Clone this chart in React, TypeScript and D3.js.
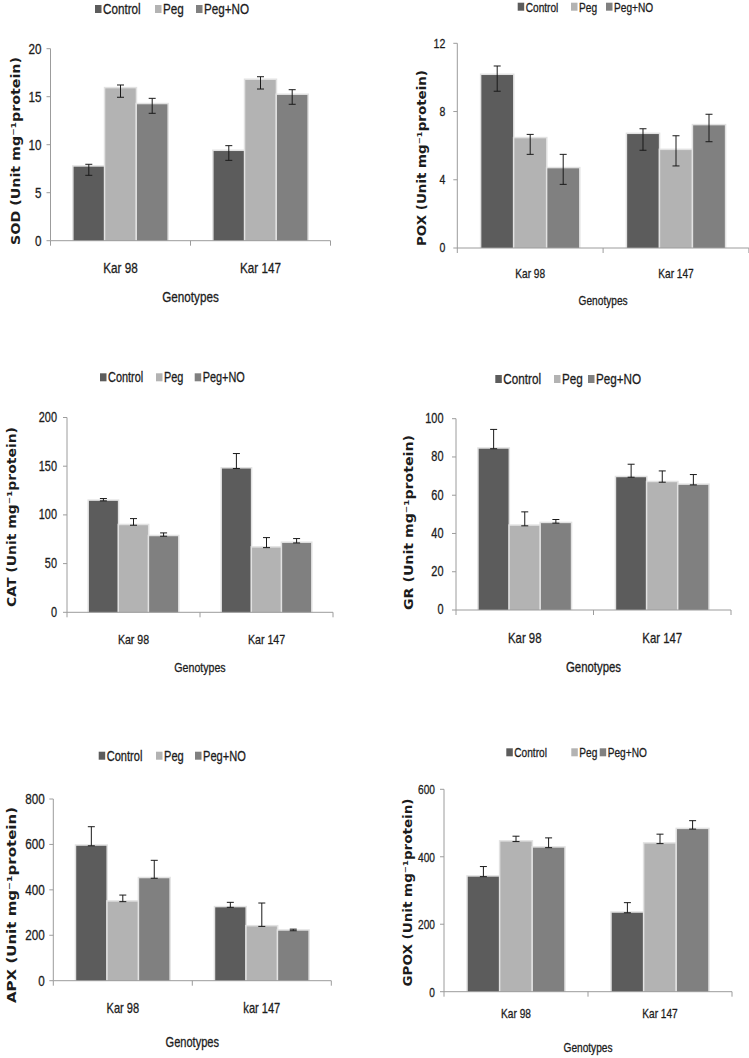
import React from 'react';
import * as d3 from 'd3';

const categories = ['Kar 98', 'Kar 147'];
const categoriesAPX = ['Kar 98', 'kar 147'];
const series = ['Control', 'Peg', 'Peg+NO'];
const seriesColors = ['#5c5c5c', '#b3b3b3', '#808080'];
const xTitle = 'Genotypes';

// values per category: [Control, Peg, Peg+NO]
const sodMeans = [[7.71, 15.87, 14.21], [9.34, 16.74, 15.18]];
const sodPlus = [[0.25, 0.35, 0.62], [0.56, 0.34, 0.55]];
const sodMinus = [[0.9, 0.93, 0.94], [0.97, 0.94, 0.97]];
const sodTicks = [0, 5, 10, 15, 20];

const poxMeans = [[10.14, 6.43, 4.67], [6.68, 5.74, 7.19]];
const poxPlus = [[0.53, 0.23, 0.82], [0.31, 0.84, 0.65]];
const poxMinus = [[0.95, 0.94, 0.94], [0.95, 0.93, 0.96]];
const poxTicks = [0, 4, 8, 12];

const catMeans = [[114.4, 89.4, 78.1], [147.6, 66.4, 71.2]];
const catPlus = [[2.4, 6.8, 3.4], [15.4, 10.3, 4.5]];
const catMinus = [[0, 0, 0], [0, 0, 0]];
const catTicks = [0, 50, 100, 150, 200];

const grMeans = [[84.3, 44.0, 45.4], [69.4, 66.8, 65.4]];
const grPlus = [[10.1, 7.3, 1.9], [6.8, 5.9, 5.4]];
const grMinus = [[0, 0, 0], [0, 0, 0]];
const grTicks = [0, 20, 40, 60, 80, 100];

const apxMeans = [[594, 348, 451], [323, 239, 220]];
const apxPlus = [[84, 29, 79], [22, 103, 7]];
const apxMinus = [[0, 0, 0], [0, 0, 0]];
const apxTicks = [0, 200, 400, 600, 800];

const gpoxMeans = [[341, 445, 427], [234, 439, 482]];
const gpoxPlus = [[30, 16, 29], [30, 28, 25]];
const gpoxMinus = [[0, 0, 0], [0, 0, 0]];
const gpoxTicks = [0, 200, 400, 600];

const SANS = "'Liberation Sans', Arial, sans-serif";
const WIDE = "'DejaVu Sans', Verdana, sans-serif";
const SX = 0.78;

function Txt({ x, y, size, anchor = 'start', children }:
  { x: number; y: number; size: number; anchor?: string; children: React.ReactNode }) {
  return (
    <text transform={`translate(${x},${y}) scale(${SX},1)`} textAnchor={anchor as any}
      dominantBaseline="central" fontFamily={SANS} fontSize={size} fill="#1c1c1c"
      stroke="#1c1c1c" strokeWidth={0.3}>{children}</text>
  );
}

type PanelProps = {
  label: string;
  cats: string[];
  means: number[][];
  plus: number[][];
  minus: number[][];
  ticks: number[];
  layout: {
    ax: number; band: number; y0: number; yTop: number;
    tickFont: number; tickGap: number;
    legendY: number; legendX: number[]; legendFont: number;
    yLabelX: number; yLabelY: number; yLabelLen: number;
    catY: number; genY: number; catFont: number;
  };
};

function Panel({ label, cats, means, plus, minus, ticks, layout: L }: PanelProps) {
  const max = ticks[ticks.length - 1];
  const y = d3.scaleLinear().domain([0, max]).range([L.y0, L.yTop]);
  const x0 = d3.scaleBand<string>().domain(cats).range([L.ax, L.ax + 2 * L.band]).padding(0);
  const groupW = L.band * 0.67;
  const axisColor = '#9c9c9c';
  return (
    <g>
      {series.map((s, i) => (
        <g key={s}>
          <rect x={L.legendX[i] - 8} y={L.legendY - 4} width={6.5} height={8} fill={seriesColors[i]} />
          <Txt x={L.legendX[i]} y={L.legendY} size={L.legendFont}>{s}</Txt>
        </g>
      ))}
      <line x1={L.ax} x2={L.ax} y1={L.yTop} y2={L.y0} stroke={axisColor} strokeWidth={1} />
      {ticks.map(t => (
        <g key={t}>
          <line x1={L.ax - 4} x2={L.ax} y1={y(t)} y2={y(t)} stroke={axisColor} />
          <Txt x={L.ax - L.tickGap} y={y(t)} size={L.tickFont} anchor="end">{t}</Txt>
        </g>
      ))}
      {cats.map((c, ci) => {
        const cx = (x0(c) as number) + L.band / 2;
        const x1 = d3.scaleBand<string>().domain(series)
          .range([cx - groupW / 2, cx + groupW / 2]).paddingInner(0.04);
        return (
          <g key={c}>
            {series.map((s, si) => {
              const v = means[ci][si];
              const bx = x1(s) as number;
              const bw = x1.bandwidth();
              return (
                <g key={s}>
                  <rect x={bx - 1.5} y={y(v) - 1.5} width={bw + 3} height={L.y0 - y(v) + 1.5} fill="#e2e2e2" />
                  <rect x={bx} y={y(v)} width={bw} height={L.y0 - y(v)} fill={seriesColors[si]} />
                </g>
              );
            })}
            {series.map((s, si) => {
              const v = means[ci][si];
              const ex = (x1(s) as number) + x1.bandwidth() / 2;
              const hi = y(v + plus[ci][si]);
              const lo = y(v - minus[ci][si]);
              return (
                <g key={'e' + s} stroke="#1a1a1a" strokeWidth={1}>
                  <line x1={ex} x2={ex} y1={hi} y2={lo} />
                  <line x1={ex - 3.5} x2={ex + 3.5} y1={hi} y2={hi} />
                  <line x1={ex - 3.5} x2={ex + 3.5} y1={lo} y2={lo} />
                </g>
              );
            })}
          </g>
        );
      })}
      <line x1={L.ax} x2={L.ax + 2 * L.band} y1={L.y0} y2={L.y0} stroke={axisColor} strokeWidth={1} />
      {[0, 1, 2].map(k => (
        <line key={k} x1={L.ax + k * L.band} x2={L.ax + k * L.band} y1={L.y0} y2={L.y0 + 5} stroke={axisColor} />
      ))}
      {cats.map(c => (
        <Txt key={c} x={(x0(c) as number) + L.band / 2} y={L.catY} size={L.catFont} anchor="middle">{c}</Txt>
      ))}
      <Txt x={L.ax + L.band} y={L.genY} size={L.catFont} anchor="middle">{xTitle}</Txt>
      <text transform={`translate(${L.yLabelX},${L.yLabelY}) rotate(-90)`} textAnchor="middle"
        dominantBaseline="central" fontFamily={WIDE} fontWeight="bold" fontSize={12.5} fill="#1c1c1c"
        textLength={L.yLabelLen} lengthAdjust="spacingAndGlyphs">
        {label + ' (Unit mg\u207B\u00B9protein)'}
      </text>
    </g>
  );
}

export default function App() {
  return (
    <svg width={749} height={1058} style={{ position: 'absolute', left: 0, top: 0, background: '#fff' }}>
      <rect width={749} height={1058} fill="#fff" />
      <Panel label="SOD" cats={categories} means={sodMeans} plus={sodPlus} minus={sodMinus} ticks={sodTicks}
        layout={{ ax: 50.5, band: 140, y0: 240.7, yTop: 48.7, tickFont: 15, tickGap: 9,
          legendY: 9, legendX: [103, 163, 204], legendFont: 15,
          yLabelX: 15, yLabelY: 151, yLabelLen: 188, catY: 268, genY: 297, catFont: 15 }} />
      <Panel label="POX" cats={categories} means={poxMeans} plus={poxPlus} minus={poxMinus} ticks={poxTicks}
        layout={{ ax: 457.3, band: 145.8, y0: 248, yTop: 43.3, tickFont: 13.5, tickGap: 12,
          legendY: 6.7, legendX: [525.7, 579, 614], legendFont: 13,
          yLabelX: 421.7, yLabelY: 158, yLabelLen: 176, catY: 272.7, genY: 300, catFont: 13 }} />
      <Panel label="CAT" cats={categories} means={catMeans} plus={catPlus} minus={catMinus} ticks={catTicks}
        layout={{ ax: 67, band: 133, y0: 612.3, yTop: 417.5, tickFont: 14, tickGap: 10,
          legendY: 377.3, legendX: [108, 164, 202.7], legendFont: 14,
          yLabelX: 11.7, yLabelY: 517, yLabelLen: 180, catY: 639.3, genY: 667.3, catFont: 13.6 }} />
      <Panel label="GR" cats={categories} means={grMeans} plus={grPlus} minus={grMinus} ticks={grTicks}
        layout={{ ax: 456, band: 137.5, y0: 610, yTop: 418.7, tickFont: 14, tickGap: 12.5,
          legendY: 379, legendX: [503.3, 562, 596], legendFont: 15,
          yLabelX: 408.3, yLabelY: 522.5, yLabelLen: 175, catY: 638.3, genY: 667.3, catFont: 14.6 }} />
      <Panel label="APX" cats={categoriesAPX} means={apxMeans} plus={apxPlus} minus={apxMinus} ticks={apxTicks}
        layout={{ ax: 53.3, band: 139, y0: 980.7, yTop: 799, tickFont: 15, tickGap: 8.5,
          legendY: 755.7, legendX: [106.7, 164, 203], legendFont: 14.2,
          yLabelX: 11.7, yLabelY: 905, yLabelLen: 196, catY: 1008.3, genY: 1041.7, catFont: 14.2 }} />
      <Panel label="GPOX" cats={categories} means={gpoxMeans} plus={gpoxPlus} minus={gpoxMinus} ticks={gpoxTicks}
        layout={{ ax: 444, band: 144, y0: 991.7, yTop: 789.3, tickFont: 13, tickGap: 9,
          legendY: 752.3, legendX: [514.3, 579.3, 607.7], legendFont: 13,
          yLabelX: 407, yLabelY: 892.5, yLabelLen: 188, catY: 1013.3, genY: 1046.7, catFont: 13 }} />
    </svg>
  );
}
